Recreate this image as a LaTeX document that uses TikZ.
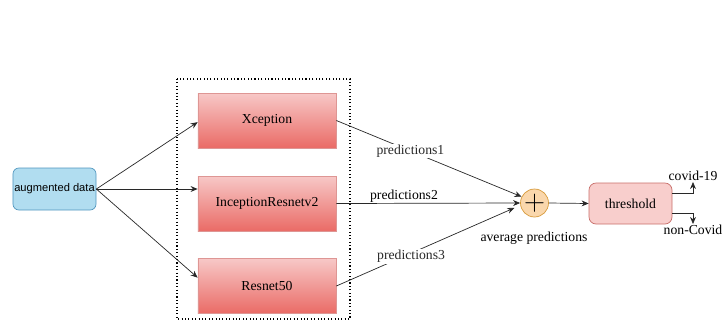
\documentclass[tikz,border=0pt]{standalone}
\usepackage{fontspec}
\setmainfont{Liberation Serif}
\newfontfamily\arialfont{Liberation Sans}
\usetikzlibrary{arrows.meta, positioning, calc}
\definecolor{augFill}  {RGB}{177,221,240}
\definecolor{augLine}  {RGB}{ 80,150,190}
\definecolor{netTop}   {RGB}{247,200,199}
\definecolor{netBot}   {RGB}{234,107,102}
\definecolor{netLine}  {RGB}{222,150,148}
\definecolor{sumFill}  {RGB}{250,215,172}
\definecolor{sumLine}  {RGB}{215,155, 60}
\definecolor{thrFill}  {RGB}{248,206,204}
\definecolor{thrLine}  {RGB}{200,110,106}
\definecolor{wire}     {RGB}{ 40, 40, 40}

\begin{document}
\begin{tikzpicture}[
  x=0.03cm, y=-0.03cm,
  aug/.style={rectangle, rounded corners=5pt, minimum width=2.49cm,
    minimum height=1.26cm, inner sep=0pt, fill=augFill, draw=augLine,
    line width=0.6pt, font=\arialfont\fontsize{9.5}{11}\selectfont},
  net/.style={rectangle, minimum width=4.14cm, minimum height=1.65cm,
    top color=netTop, bottom color=netBot, draw=netLine,
    line width=0.6pt, font=\fontsize{11.7}{13}\selectfont},
  sumdot/.style={circle, minimum size=0.84cm, inner sep=0pt,
    fill=sumFill, draw=sumLine, line width=0.6pt,
    font=\fontsize{24}{24}\selectfont},
  thr/.style={rectangle, rounded corners=6pt, minimum width=2.49cm,
    minimum height=1.23cm, fill=thrFill, draw=thrLine,
    line width=0.6pt, font=\fontsize{11.7}{13}\selectfont},
  lbl/.style={font=\fontsize{11.7}{13}\selectfont, inner sep=1pt},
  arr/.style={-{Stealth[length=6pt, width=5pt]}, wire, line width=0.6pt},
]
\useasboundingbox (0,0) rectangle (727,323);

%% Input
\node[aug] (aug) at (54.5,189) {augmented data};

%% Ensemble of networks
\draw[dotted, line width=0.9pt] (177,79) rectangle (350,319);
\node[net] (xc)  at (267,120.5) {Xception};
\node[net] (inc) at (267,203.5) {InceptionResnetv2};
\node[net] (res) at (267,286)   {Resnet50};

%% Averaging and threshold
\node[sumdot] (sum) at (534.5,203) {$+$};
\node[lbl] (avg) at (534,238) {average predictions};
\node[thr] (thr) at (630.5,203.5) {threshold};

%% Input to networks
\draw[arr] (aug.east) -- ([yshift=-0.05cm]xc.west);
\draw[arr] (aug.east) -- (aug.east -| inc.west);
\draw[arr] (aug.east) -- ([yshift=0.25cm]res.west);

%% Networks to average
\draw[arr] (xc.east) -- node[lbl, fill=white, pos=0.4] (p1) {predictions1} (sum.154);
\draw[arr] (inc.east) -- (sum.west);
\node[lbl] (p2) at (404,196) {predictions2};
\draw[arr] (res.east) -- node[lbl, fill=white, pos=0.42, yshift=-0.1cm] (p3) {predictions3} ([xshift=-0.2cm]sum.200);

%% Average to threshold
\draw[arr] (sum.east) -- (thr.west);

%% Outputs
\coordinate (c19) at (693,182);
\coordinate (nc)  at (693,224);
\draw[arr] ([yshift=0.31cm]thr.east) -| (c19);
\draw[arr] ([yshift=-0.29cm]thr.east) -| (nc);
\node[lbl, above=0pt of c19] (cv) {covid-19};
\node[lbl, below=0pt of nc]  (nv) {non-Covid};
\end{tikzpicture}
\end{document}
